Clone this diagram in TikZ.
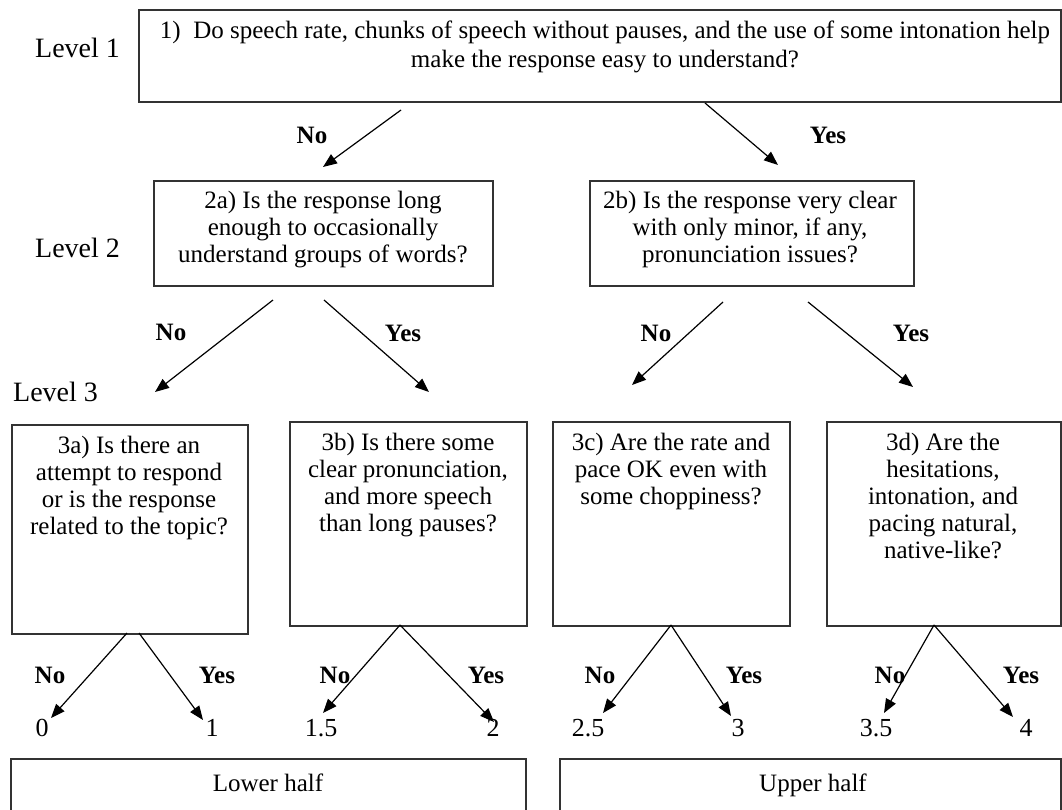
\documentclass[tikz,border=0pt]{standalone}
\usepackage{fontspec}
\setmainfont{Liberation Serif}
\usetikzlibrary{arrows.meta}
\begin{document}
\begin{tikzpicture}[x=1pt,y=-1pt,
  box/.style={draw=black!80, line width=1.6pt, inner sep=0pt, anchor=north west},
  txt/.style={font=\fontsize{25}{27}\selectfont, align=center, inner sep=0pt, anchor=north},
  lvl/.style={font=\fontsize{28}{30}\selectfont, inner sep=0pt, anchor=west},
  lab/.style={font=\bfseries\fontsize{25}{27}\selectfont, inner sep=0pt},
  num/.style={font=\fontsize{26}{28}\selectfont, inner sep=0pt},
  arr/.style={-{Triangle[length=14pt,width=11pt]}, line width=1.2pt, black}]
\useasboundingbox (0,0) rectangle (1062,809);
\clip (0,0) rectangle (1062,809);
\fill[white] (0,0) rectangle (1062,809);

% level labels
\node[lvl] (l1) at (35,48) {Level 1};
\node[lvl] (l2) at (35,248) {Level 2};
\node[lvl] (l3) at (13,392) {Level 3};

% boxes
\node[box, minimum width=922pt, minimum height=92pt] (b1) at (138,9) {};
\node[box, minimum width=339pt, minimum height=105pt] (b2a) at (153,180) {};
\node[box, minimum width=324pt, minimum height=105pt] (b2b) at (589,180) {};
\node[box, minimum width=236pt, minimum height=209pt] (b3a) at (11,424) {};
\node[box, minimum width=237pt, minimum height=204pt] (b3b) at (289,421) {};
\node[box, minimum width=237pt, minimum height=204pt] (b3c) at (552,421) {};
\node[box, minimum width=234pt, minimum height=204pt] (b3d) at (826,421) {};
\node[box, minimum width=515pt, minimum height=80pt] (lo) at (10,758) {};
\node[box, minimum width=501pt, minimum height=80pt] (up) at (559,758) {};

% box texts
\node[txt, font=\fontsize{25}{29}\selectfont] (t1) at (605,21) {1)\ \ Do speech rate, chunks of speech without pauses, and the use of some intonation help\\make the response easy to understand?};
\node[txt] (t2a) at (323,191) {2a) Is the response long\\enough to occasionally\\understand groups of words?};
\node[txt] (t2b) at (750,191) {2b) Is the response very clear\\with only minor, if any,\\pronunciation issues?};
\node[txt] (t3a) at (129,436) {3a) Is there an\\attempt to respond\\or is the response\\related to the topic?};
\node[txt] (t3b) at (408,433) {3b) Is there some\\clear pronunciation,\\and more speech\\than long pauses?};
\node[txt] (t3c) at (671,433) {3c) Are the rate and\\pace OK even with\\some choppiness?};
\node[txt] (t3d) at (943,433) {3d) Are the\\hesitations,\\intonation, and\\pacing natural,\\native-like?};
\node[txt, anchor=base] (tlo) at (268,791) {Lower half};
\node[txt, anchor=base] (tup) at (813,791) {Upper half};

% arrow endpoints
\coordinate (s1n) at (401,110); \coordinate (e1n) at (323,167);
\coordinate (s1y) at (705,103); \coordinate (e1y) at (778,165);
\coordinate (s2an) at (273,300); \coordinate (e2an) at (155,392);
\coordinate (s2ay) at (324,300); \coordinate (e2ay) at (429,392);
\coordinate (s2bn) at (723,302); \coordinate (e2bn) at (632,385);
\coordinate (s2by) at (808,302); \coordinate (e2by) at (913,387);
\coordinate (s3an) at (127,633); \coordinate (e3an) at (51,718);
\coordinate (s3ay) at (139,633); \coordinate (e3ay) at (203,720);
\coordinate (s3b) at (400,625); \coordinate (e3bn) at (323,713); \coordinate (e3by) at (494,722);
\coordinate (s3c) at (671,625); \coordinate (e3cn) at (603,713); \coordinate (e3cy) at (731,716);
\coordinate (s3d) at (934,625); \coordinate (e3dn) at (884,713); \coordinate (e3dy) at (1013,717);

\draw[arr] (s1n) -- (e1n);
\draw[arr] (s1y) -- (e1y);
\draw[arr] (s2an) -- (e2an);
\draw[arr] (s2ay) -- (e2ay);
\draw[arr] (s2bn) -- (e2bn);
\draw[arr] (s2by) -- (e2by);
\draw[arr] (s3an) -- (e3an);
\draw[arr] (s3ay) -- (e3ay);
\draw[arr] (s3b) -- (e3bn);
\draw[arr] (s3b) -- (e3by);
\draw[arr] (s3c) -- (e3cn);
\draw[arr] (s3c) -- (e3cy);
\draw[arr] (s3d) -- (e3dn);
\draw[arr] (s3d) -- (e3dy);

% yes/no labels
\node[lab] (n1) at (312,135) {No};
\node[lab] (y1) at (828,135) {Yes};
\node[lab] (n2a) at (171,332) {No};
\node[lab] (y2a) at (403,333) {Yes};
\node[lab] (n2b) at (656,333) {No};
\node[lab] (y2b) at (911,333) {Yes};
\node[lab] (n3a) at (50,675) {No};
\node[lab] (y3a) at (217,675) {Yes};
\node[lab] (n3b) at (335,675) {No};
\node[lab] (y3b) at (486,675) {Yes};
\node[lab] (n3c) at (600,675) {No};
\node[lab] (y3c) at (744,675) {Yes};
\node[lab] (n3d) at (890,675) {No};
\node[lab] (y3d) at (1021,675) {Yes};

% scores
\node[num] (v0) at (42,728) {0};
\node[num] (v1) at (212,728) {1};
\node[num] (v15) at (321,728) {1.5};
\node[num] (v2) at (493,728) {2};
\node[num] (v25) at (588,728) {2.5};
\node[num] (v3) at (738,728) {3};
\node[num] (v35) at (876,728) {3.5};
\node[num] (v4) at (1026,728) {4};
\end{tikzpicture}
\end{document}
